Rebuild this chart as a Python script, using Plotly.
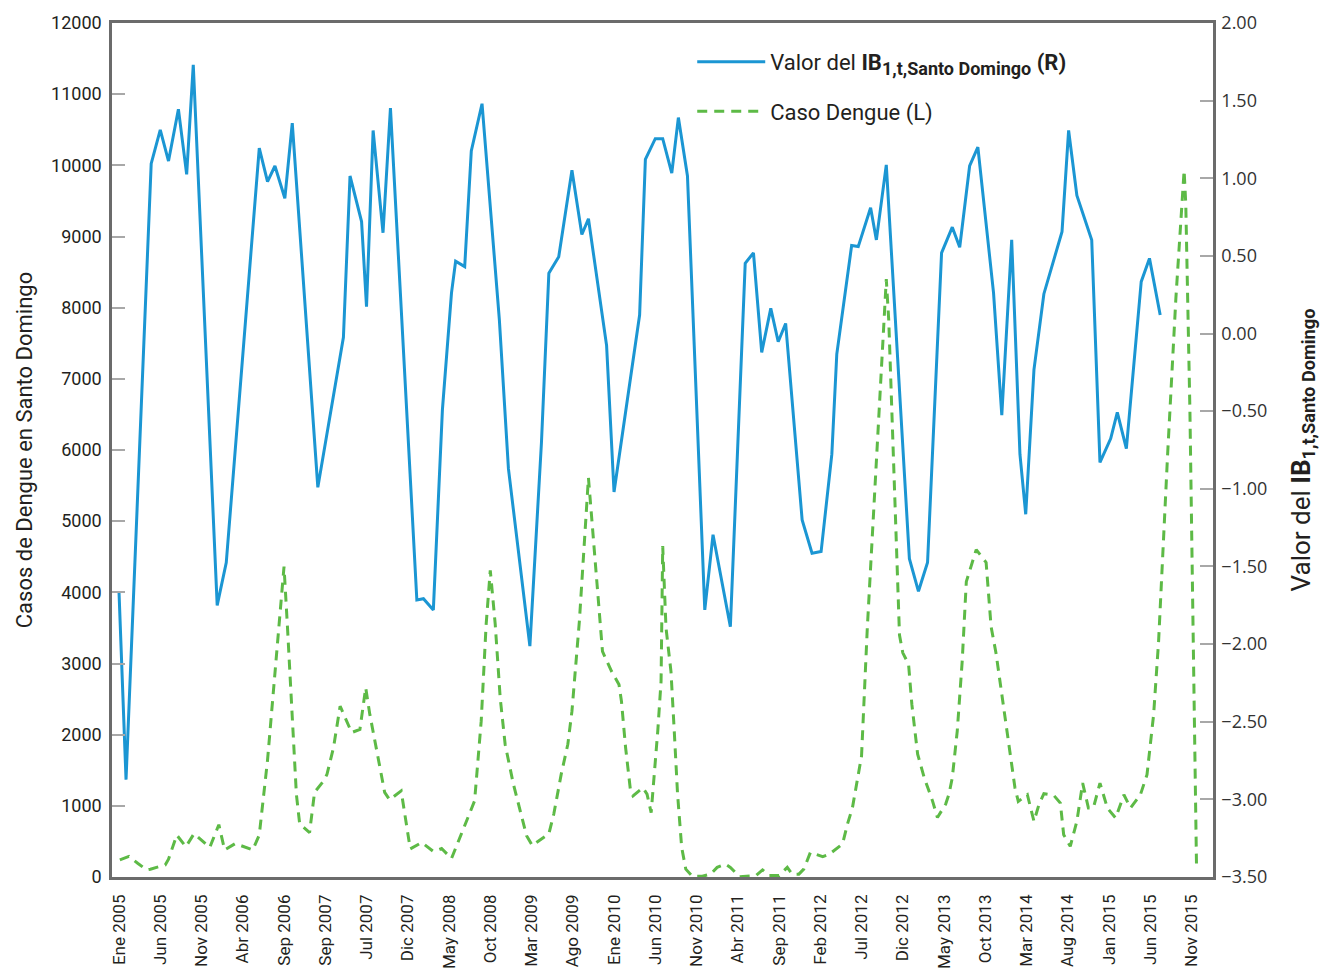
import plotly.graph_objects as go

# ---------------- data (month index: 0 = Ene 2005) ----------------
tick_labels = ["Ene 2005", "Jun 2005", "Nov 2005", "Abr 2006", "Sep 2006", "Sep 2007",
               "Jul 2007", "Dic 2007", "May 2008", "Oct 2008", "Mar 2009", "Ago 2009",
               "Ene 2010", "Jun 2010", "Nov 2010", "Abr 2011", "Sep 2011", "Feb 2012",
               "Jul 2012", "Dic 2012", "May 2013", "Oct 2013", "Mar 2014", "Aug 2014",
               "Jan 2015", "Jun 2015", "Nov 2015"]
tick_months = list(range(0, 131, 5))
minor_tick_months = list(range(0, 133, 6))

ib_months = [0, 0.85, 3.9, 5.0, 6.0, 7.2, 8.2, 9.0, 11.9, 13.0, 17.0, 18.0, 18.9, 20.1, 21.0,
             24.1, 27.2, 28.0, 29.4, 30.0, 30.8, 32.0, 32.9, 36.1, 36.9, 38.1, 39.2, 40.3,
             40.8, 41.9, 42.7, 44.0, 46.1, 47.2, 49.8, 51.2, 52.1, 53.3, 54.9, 56.1, 56.9,
             59.1, 60.0, 63.1, 63.8, 65.0, 65.9, 67.0, 67.8, 68.9, 71.0, 72.0, 74.1, 75.9,
             76.9, 77.9, 79.0, 79.9, 80.8, 82.8, 84.0, 85.1, 86.4, 87.0, 88.8, 89.6, 91.1,
             91.8, 93.0, 95.8, 96.9, 98.0, 99.7, 101.0, 101.9, 103.1, 104.1, 106.0, 107.0,
             108.2, 109.2, 109.9, 110.9, 112.1, 114.3, 115.1, 116.1, 117.9, 118.9, 120.2,
             121.0, 122.1, 123.9, 124.9, 126.2]
ib_values = [-1.665, -2.873, 1.094, 1.312, 1.111, 1.445, 1.025, 1.731, -1.751, -1.475, 1.194,
             0.979, 1.079, 0.871, 1.355, -0.99, -0.024, 1.015, 0.721, 0.173, 1.308, 0.649,
             1.452, -1.716, -1.708, -1.78, -0.49, 0.262, 0.466, 0.431, 1.176, 1.48, 0.09,
             -0.87, -2.013, -0.705, 0.388, 0.495, 1.051, 0.638, 0.739, -0.078, -1.02, 0.119,
             1.122, 1.255, 1.255, 1.033, 1.391, 1.015, -1.78, -1.296, -1.888, 0.452, 0.52,
             -0.121, 0.162, -0.053, 0.065, -1.2, -1.415, -1.404, -0.777, -0.132, 0.567, 0.56,
             0.81, 0.603, 1.086, -1.45, -1.66, -1.475, 0.52, 0.685, 0.556, 1.079, 1.201,
             0.262, -0.526, 0.603, -0.777, -1.164, -0.232, 0.255, 0.656, 1.308, 0.889, 0.603,
             -0.83, -0.676, -0.508, -0.741, 0.334, 0.484, 0.119]

dengue_months = [0.1, 1.2, 2.3, 3.35, 3.8, 5.6, 6.0, 7.0, 8.1, 9.1, 11.0, 12.1, 12.8, 14.1,
                 16.2, 17.0, 18.0, 19.0, 20.0, 20.4, 21.0, 21.5, 21.9, 23.1, 23.7, 24.8, 25.2,
                 26.0, 26.8, 28.2, 29.2, 29.9, 30.4, 31.6, 32.2, 32.8, 34.2, 35.3, 36.7, 38.1,
                 39.1, 40.3, 41.5, 43.1, 43.9, 44.5, 45.0, 45.6, 46.2, 46.8, 47.8, 48.8, 49.4,
                 50.1, 50.6, 52.1, 52.7, 53.6, 54.4, 54.9, 55.4, 55.8, 56.9, 58.3, 58.6, 59.7,
                 60.6, 60.9, 61.4, 62.0, 62.3, 63.5, 64.0, 64.5, 64.8, 65.3, 65.7, 65.9, 66.3,
                 66.9, 67.3, 67.7, 68.2, 68.7, 69.5, 70.7, 71.7, 72.5, 73.5, 74.1, 75.2, 77.2,
                 78.0, 78.8, 80.0, 81.0, 81.6, 82.4, 83.0, 83.8, 85.3, 86.1, 87.7, 88.3, 88.9,
                 89.5, 90.0, 90.7, 91.4, 92.2, 92.6, 93.0, 93.3, 93.8, 94.2, 94.6, 95.0, 95.7,
                 96.1, 96.8, 97.6, 98.6, 99.2, 100.2, 100.6, 101.0, 101.6, 102.2, 102.7, 103.9,
                 105.1, 105.7, 106.3, 106.9, 107.5, 108.0, 108.6, 109.0, 110.1, 110.9, 111.5,
                 112.1, 113.3, 114.1, 114.5, 115.3, 116.1, 116.8, 117.5, 118.1, 118.9, 119.8,
                 120.8, 121.8, 122.6, 123.8, 124.6, 125.4, 126.0, 127.1, 128.1, 129.1, 129.3,
                 129.8, 130.1, 130.4, 130.6]
dengue_values = [240, 290, 190, 100, 110, 170, 250, 590, 425, 610, 415, 735, 380, 470,
                 380, 590, 1640, 3050, 4360, 3550, 2190, 1160, 745, 625, 1190, 1350, 1440,
                 1820, 2400, 2030, 2075, 2660, 2285, 1540, 1190, 1085, 1210, 395, 485, 360,
                 400, 260, 600, 1070, 2190, 3550, 4310, 3550, 2520, 1865, 1305, 835, 580,
                 440, 485, 605, 885, 1445, 1865, 2330, 2990, 3595, 5610, 3550, 3170, 2890,
                 2705, 2470, 1820, 1210, 1140, 1255, 1165, 905, 1305, 2050, 2750, 4650, 3500,
                 2890, 2050, 1165, 415, 110, 10, 10, 40, 135, 180, 135, 5, 20,
                 100, 20, 20, 135, 40, 40, 110, 345, 285, 320, 465, 745, 975,
                 1395, 1700, 3500, 5000, 6720, 7660, 8400, 7820, 6175, 4610, 3400, 3150, 2990,
                 2425, 1725, 1395, 1070, 835, 1025, 1165, 1395, 2050, 3030, 4150, 4600,
                 4420, 3520, 3145, 2654, 2186, 1811, 1250, 1062, 1156, 782, 1016,
                 1170, 1147, 1039, 594, 431, 782, 1320, 969, 969, 1320, 969,
                 828, 1156, 969, 1156, 1437, 2279, 3300, 5940, 8130, 9930, 9460,
                 6570, 4220, 1875, 160]

# ---------------- styling ----------------
BLUE = "#1b96d3"
GREEN = "#5dba46"
AXIS = "#6b6b6b"
TICK = "#a8a8a8"
TEXT = "#231f20"
FONT = "Roboto, Liberation Sans, sans-serif"
REGULAR = "Open Sans, Noto Sans, sans-serif"

fig = go.Figure()
fig.add_trace(go.Scatter(
    x=ib_months, y=ib_values, mode="lines", xaxis="x", yaxis="y2",
    name="Valor del <b>IB<sub><span style='font-size:18px'>1,t,Santo Domingo</span></sub> (R)</b>",
    legendgroup="ib",
    line=dict(color=BLUE, width=3),
))
fig.add_trace(go.Scatter(
    x=dengue_months, y=dengue_values, mode="lines", xaxis="x", yaxis="y",
    name="Caso Dengue (L)", legendgroup="dengue",
    line=dict(color=GREEN, width=3, dash="10px,7px"),
))

# page body has an 8px default margin: figure is sized so the page is 1334x971
xr = [-0.85, 132.6]
fig.update_layout(
    width=1326, height=963,
    margin=dict(l=104, r=121, t=15, b=94, autoexpand=False),
    paper_bgcolor="white", plot_bgcolor="white",
    font=dict(family=FONT, color=TEXT, size=18),
    showlegend=True,
    legend=dict(x=0.527, y=0.979, xanchor="left", yanchor="top",
                bgcolor="rgba(0,0,0,0)", font=dict(size=22, family=FONT, color=TEXT),
                itemwidth=68, tracegroupgap=18),
    xaxis=dict(range=xr, tickmode="array", tickvals=tick_months, ticktext=tick_labels,
               tickangle=-90, ticks="", showline=True, linecolor=AXIS, linewidth=2.5,
               mirror=True, showgrid=False, zeroline=False, ticklabelstandoff=8,
               automargin=False, tickfont=dict(size=17, family=FONT, color=TEXT)),
    xaxis2=dict(range=xr, overlaying="x", anchor="y", side="bottom", tickmode="array",
                tickvals=minor_tick_months, ticks="inside", ticklen=10, tickwidth=2,
                tickcolor=TICK, mirror="ticks", showticklabels=False, showline=False,
                showgrid=False, zeroline=False, automargin=False),
    yaxis=dict(range=[0, 12000], tickmode="array", tickvals=list(range(0, 12001, 1000)),
               tickformat="d", ticks="inside", ticklen=13, tickwidth=2, tickcolor=TICK,
               showline=True, linecolor=AXIS, linewidth=2.5, showgrid=False, zeroline=False,
               ticklabelstandoff=4, automargin=False,
               tickfont=dict(size=18, family=FONT, color=TEXT),
               title=dict(text="Casos de Dengue en Santo Domingo", standoff=13,
                          font=dict(size=22, family=FONT, color=TEXT))),
    yaxis2=dict(range=[-3.5, 2.0], overlaying="y", side="right", anchor="x",
                tickmode="array", tickvals=[2.0, 1.5, 1.0, 0.5, 0.0, -0.5, -1.0, -1.5, -2.0,
                                            -2.5, -3.0, -3.5],
                tickformat=".2f", ticks="inside", ticklen=13, tickwidth=2, tickcolor=TICK,
                showline=True, linecolor=AXIS, linewidth=2.5, showgrid=False, zeroline=False,
                ticklabelstandoff=2, automargin=False,
                tickfont=dict(size=18, family=REGULAR, color="#333333"),
                title=dict(text="Valor del <b>IB<sub>1,t,Santo Domingo</sub></b>", standoff=26,
                           font=dict(size=26, family=FONT, color=TEXT))),
)

fig.write_html("out.html")
